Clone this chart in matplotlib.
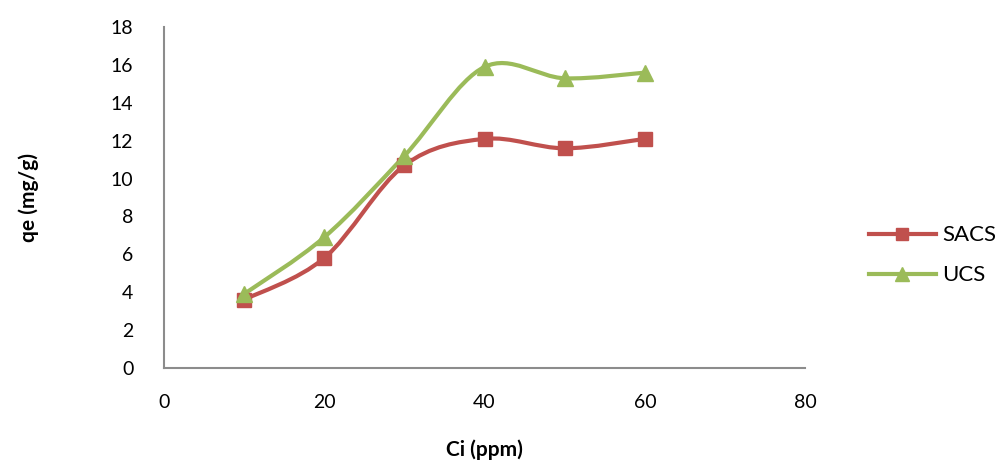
import matplotlib.pyplot as plt
from matplotlib.path import Path
from matplotlib.patches import PathPatch

ci = [10, 20, 30, 40, 50, 60]
sacs = [3.6, 5.8, 10.7, 12.1, 11.6, 12.1]
ucs = [3.9, 6.9, 11.2, 15.9, 15.3, 15.6]

red = "#C0504D"
green = "#9BBB59"
plt.rcParams['font.family'] = ['Lato', 'DejaVu Sans']


def smooth_path(x, y):
    # Excel-like smoothed line: cubic bezier segments, catmull-rom control points
    verts = [(x[0], y[0])]
    codes = [Path.MOVETO]
    n = len(x)
    for i in range(n - 1):
        x0, y0 = (x[i - 1], y[i - 1]) if i > 0 else (x[i], y[i])
        x3, y3 = (x[i + 2], y[i + 2]) if i + 2 < n else (x[i + 1], y[i + 1])
        c1 = (x[i] + (x[i + 1] - x0) / 6, y[i] + (y[i + 1] - y0) / 6)
        c2 = (x[i + 1] - (x3 - x[i]) / 6, y[i + 1] - (y3 - y[i]) / 6)
        verts += [c1, c2, (x[i + 1], y[i + 1])]
        codes += [Path.CURVE4] * 3
    return Path(verts, codes)


fig = plt.figure(figsize=(9.99, 4.61), dpi=100)
ax = fig.add_axes([0.164, 0.202, 0.642, 0.739])

for vals, col, mk, lab, ms in [(sacs, red, "s", "SACS", 10), (ucs, green, "^", "UCS", 11)]:
    ax.add_patch(PathPatch(smooth_path(ci, vals), facecolor="none", edgecolor=col, lw=3, zorder=2))
    ax.plot(ci, vals, linestyle="none", marker=mk, color=col, markersize=ms, zorder=3)
    ax.plot([], [], color=col, lw=3, marker=mk, markersize=ms - 1, label=lab)

ax.set_xlim(0, 80)
ax.set_ylim(0, 18)
ax.set_xticks(range(0, 81, 20))
ax.set_yticks(range(0, 19, 2))
ax.tick_params(length=0, labelsize=14)
ax.tick_params(axis="x", pad=19)
ax.tick_params(axis="y", pad=22)
for s in ["top", "right"]:
    ax.spines[s].set_visible(False)
for s in ["left", "bottom"]:
    ax.spines[s].set_color("#8c8c8c")
    ax.spines[s].set_linewidth(1.5)

ax.set_xlabel("Ci (ppm)", fontsize=15, fontweight="bold")
ax.set_ylabel("qe (mg/g)", fontsize=15, fontweight="bold")
ax.xaxis.set_label_coords(0.5, -0.24, transform=ax.transAxes)
ax.yaxis.set_label_coords(-0.21, 0.5, transform=ax.transAxes)
ax.xaxis.label.set_va("center")
ax.yaxis.label.set_va("center")

fig.legend(loc="center left", bbox_to_anchor=(0.85, 0.446), frameon=False,
           fontsize=16, handlelength=3, labelspacing=0.9, handletextpad=0.3)

fig.savefig("out.png", dpi=100)
